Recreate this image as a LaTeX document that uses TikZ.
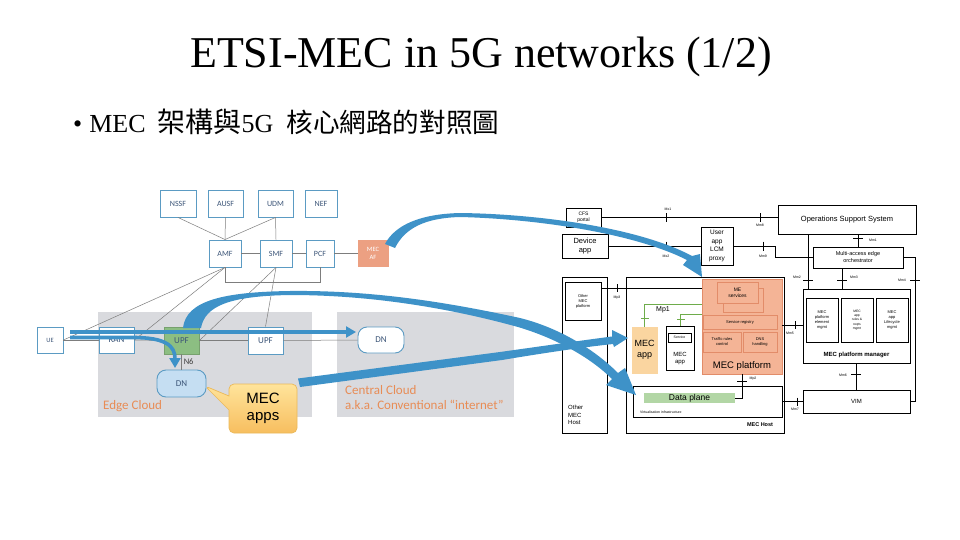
\documentclass[tikz,border=0pt]{standalone}
\usepackage{fontspec}
\setmainfont{Liberation Serif}
\newfontfamily\cjk{Noto Sans CJK TC}
\newfontfamily\arialf{Liberation Sans}
\newfontfamily\calib{Carlito}
\usetikzlibrary{arrows.meta,shapes.callouts,calc}
\newcommand{\fsz}[2]{\fontsize{#1}{#2}\selectfont}
\definecolor{lbord}{RGB}{91,155,195}
\definecolor{ltxt}{RGB}{60,85,120}
\definecolor{lline}{RGB}{125,125,125}
\definecolor{cloud}{RGB}{217,218,222}
\definecolor{upfg}{RGB}{140,190,130}
\definecolor{mecaf}{RGB}{236,160,130}
\definecolor{dnfill}{RGB}{197,222,242}
\definecolor{bblue}{RGB}{62,146,200}
\definecolor{orng}{RGB}{232,140,85}
\definecolor{calltop}{RGB}{255,228,155}
\definecolor{callbot}{RGB}{247,190,95}
\definecolor{callbd}{RGB}{235,185,90}
\definecolor{salm}{RGB}{244,180,150}
\definecolor{salmbd}{RGB}{226,140,105}
\definecolor{appy}{RGB}{250,213,160}
\definecolor{dpg}{RGB}{178,214,165}
\definecolor{greenl}{RGB}{110,172,75}
\tikzset{
  lb/.style={draw=lbord, line width=0.9pt, fill=white, inner sep=0pt, align=center, font=\calib\fsz{8}{9}, text=ltxt},
  ln/.style={draw=lline, line width=0.5pt},
  rb/.style={draw=black, line width=0.7pt, fill=white, inner sep=0pt, align=center, font=\arialf\fsz{5}{6}},
  sb/.style={draw=salmbd, line width=0.6pt, fill=salm, inner sep=0pt, align=center, font=\arialf\fsz{4}{5}},
  rl/.style={draw=black, line width=0.6pt},
  gl/.style={draw=greenl, line width=0.8pt},
  tk/.style={font=\arialf\fsz{3.5}{4}, inner sep=0.5pt},
  barrow/.style={draw=bblue, line width=3.6pt, -{Triangle[length=10pt,width=11pt]}},
}
\begin{document}
\begin{tikzpicture}[x=1pt,y=-1pt]
\useasboundingbox (0,0) rectangle (960,540);
\fill[white] (0,0) rectangle (960,540);
% titles
\node[anchor=base, inner sep=0] (title) at (481,68) {\fsz{44}{48}ETSI-MEC in 5G networks (1/2)};
\node[anchor=base west, inner sep=0] (bullet) at (73,133) {\fsz{26}{30}•\hspace{7pt}MEC\hspace{12pt}{\cjk\fsz{28}{30}架構與}5G\hspace{13pt}{\cjk\fsz{26.6}{30}核心網路的對照圖}};

% ---------------- left diagram ----------------
\fill[cloud] (98,312) rectangle (312,417);
\fill[cloud] (337,312) rectangle (514,417);

\node[lb, minimum width=36pt, minimum height=27pt] (nssf) at (178,203.5) {NSSF};
\node[lb, minimum width=35pt, minimum height=27pt] (ausf) at (225.5,203.5) {AUSF};
\node[lb, minimum width=35pt, minimum height=27pt] (udm) at (275.5,203.5) {UDM};
\node[lb, minimum width=32pt, minimum height=27pt] (nef) at (321,203.5) {NEF};
\node[lb, minimum width=32pt, minimum height=27pt] (amf) at (225,253.5) {AMF};
\node[lb, minimum width=32pt, minimum height=27pt] (smf) at (276,253.5) {SMF};
\node[lb, minimum width=28pt, minimum height=27pt] (pcf) at (320,253.5) {PCF};
\node[lb, draw=mecaf, fill=mecaf, text=white, font=\calib\fsz{6.5}{8}, minimum width=30pt, minimum height=26pt] (mecaf) at (373,253.5) {MEC\\AF};
\node[lb, font=\calib\fsz{6.5}{8}, minimum width=26pt, minimum height=26pt] (ue) at (50,340) {UE};
\node[lb, font=\calib\fsz{9}{10}, minimum width=35pt, minimum height=26pt] (ran) at (116.5,340) {RAN};
\node[lb, draw=upfg!85!black, fill=upfg, font=\calib\fsz{9}{10}, minimum width=35pt, minimum height=27pt] (upfa) at (181.5,340.5) {UPF};
\node[lb, font=\calib\fsz{9}{10}, minimum width=35pt, minimum height=27pt] (upfb) at (265.5,340.5) {UPF};
\node[lb, rounded corners=9pt, font=\calib\fsz{9}{10}, minimum width=46pt, minimum height=26pt] (dnc) at (381,340) {DN};
\node[lb, rounded corners=9pt, fill=dnfill, font=\calib\fsz{9}{10}, minimum width=49pt, minimum height=27pt] (dne) at (181.5,383.5) {DN};

\draw[ln] (nssf.south) -- (amf.north);
\draw[ln] (ausf.south) -- (amf.north);
\draw[ln] (udm.south) -- (amf.north);
\draw[ln] (udm.south) -- (smf.north);
\draw[ln] (amf.east) -- (smf.west);
\draw[ln] (smf.east) -- (pcf.west);
\draw[ln] (pcf.east) -- (mecaf.west);
\draw[ln] (amf.south) -- ++(0,15) -| (pcf.south);
\draw[ln] (amf.south) -- (ue.east);
\draw[ln] (amf.south) -- (ran.east);
\draw[ln] (smf.south) -- (upfa.east);
\draw[ln] (smf.south) -- (upfb.north);
\draw[ln] (ue.east) -- (ran.west);
\draw[ln] (ran.east) -- (upfa.west);
\draw[ln] (upfa.east) -- (upfb.west);
\draw[ln] (upfb.east) -- (dnc.west);
\draw[ln] (upfa.south) -- (dne.north) node[midway, right, font=\calib\fsz{8.5}{9}, text=black!75, inner sep=2pt] {N6};

\node[anchor=west, inner sep=0, font=\calib\fsz{13}{15}, text=orng] (edgelbl) at (103,406) {Edge Cloud};
\node[anchor=west, inner sep=0, font=\calib\fsz{13}{15}, text=orng, align=left] (centlbl) at (345,398) {Central Cloud\\a.k.a. Conventional “internet”};

\node[rectangle callout, rounded corners=5pt, callout absolute pointer={(205,386)}, callout pointer width=14pt,
      draw=callbd, line width=0.7pt, top color=calltop, bottom color=callbot, minimum width=68pt, minimum height=49pt,
      inner sep=0pt, align=center, font=\arialf\fsz{15}{17.5}] (mecapps) at (263,408.5) {MEC\\apps};

% blue arrows (left)
\coordinate (a1s) at (70,332);
\coordinate (a1e) at (356,332);
\coordinate (a2s) at (70,337.5);
\coordinate (a2e) at (175,368);
\draw[barrow] (a1s) -- (a1e);
\draw[barrow] (a2s) -- (133,337.5) .. controls (166,337.5) and (175,346) .. (a2e);

% ---------------- right diagram ----------------
\node[rb, minimum width=158pt, minimum height=156pt] (host) at (705,355) {};
\node[rb, minimum width=45pt, minimum height=156pt] (ohost) at (584.5,355) {};
\node[anchor=west, inner sep=0, align=left, font=\arialf\fsz{6}{7.5}] (ohostlbl) at (568,415) {Other\\MEC\\Host};
\node[rb, line width=1pt, font=\arialf\fsz{4}{5}, minimum width=36pt, minimum height=38pt] (omp) at (583,301) {Other\\MEC\\platform};
\node[rb, font=\arialf\fsz{5}{6}, minimum width=35pt, minimum height=19pt] (cfs) at (583.5,217.5) {CFS\\portal};
\node[rb, font=\arialf\fsz{7.5}{8.5}, minimum width=46pt, minimum height=24pt] (dev) at (585,246) {Device\\app};
\node[rb, font=\arialf\fsz{6.5}{8.5}, minimum width=32pt, minimum height=38pt] (lcm) at (717,246) {User\\app\\LCM\\proxy};
\node[rb, line width=0.9pt, font=\arialf\fsz{7.5}{9}, minimum width=138pt, minimum height=29pt] (oss) at (847,219.5) {Operations Support System};
\node[rb, line width=0.9pt, font=\arialf\fsz{5.5}{7}, minimum width=90pt, minimum height=21pt] (orch) at (858,257.5) {Multi-access edge\\orchestrator};
\node[rb, line width=0.9pt, minimum width=107pt, minimum height=74pt] (pm) at (856.5,326) {};
\node[inner sep=0, font=\arialf\bfseries\fsz{6}{7}] (pmlbl) at (856.5,355) {MEC platform manager};
\node[rb, line width=1pt, font=\arialf\fsz{4}{5}, minimum width=32pt, minimum height=44pt] (pme) at (822,320) {MEC\\platform\\element\\mgmt};
\node[rb, line width=1pt, font=\arialf\fsz{3.3}{4.3}, minimum width=32pt, minimum height=44pt] (pmr) at (857,320) {MEC\\app\\rules \&\\reqts\\mgmt};
\node[rb, line width=1pt, font=\arialf\fsz{4}{5}, minimum width=32pt, minimum height=44pt] (pml) at (892,320) {MEC\\app\\Lifecycle\\mgmt};
\node[rb, line width=0.9pt, font=\arialf\fsz{6}{7}, minimum width=107pt, minimum height=23pt] (vim) at (856.5,401.5) {VIM};

\node[inner sep=0, font=\arialf\bfseries\fsz{5.5}{6}] (hostlbl) at (760,425) {MEC Host};
\node[rb, minimum width=149pt, minimum height=31pt] (virt) at (707.5,401.5) {};
\node[anchor=west, inner sep=0, font=\arialf\fsz{3.5}{4}] (virtlbl) at (640,412) {Virtualisation infrastructure};
\node[draw=none, fill=dpg, inner sep=0, minimum width=91pt, minimum height=10pt, font=\arialf\fsz{8.5}{9}] (dp) at (689.5,398) {Data plane};

\node[sb, minimum width=80pt, minimum height=95pt] (mecp) at (742,326.5) {};
\node[inner sep=0, font=\arialf\fsz{9.5}{10}] (mecplbl) at (742,366) {MEC platform};
\node[sb, minimum width=40pt, minimum height=24pt] (mesb) at (743,300) {};
\node[sb, font=\arialf\fsz{5}{6}, minimum width=41pt, minimum height=21pt] (mes) at (737.5,292.5) {ME\\services};
\node[sb, minimum width=74pt, minimum height=14pt] (sreg) at (740,322) {Service registry};
\node[sb, minimum width=38pt, minimum height=20pt] (trc) at (722,342) {Traffic rules\\control};
\node[sb, minimum width=34pt, minimum height=20pt] (dns) at (760,342) {DNS\\handling};

\node[draw=appy, fill=appy, inner sep=0, align=center, minimum width=25pt, minimum height=46pt, font=\arialf\fsz{9}{10.5}] (appy) at (644.5,350) {MEC\\app};
\node[rb, line width=1pt, minimum width=28pt, minimum height=44pt] (appw) at (680,348) {};
\node[inner sep=0, align=center, font=\arialf\fsz{6}{7}] (appwlbl) at (680,359) {MEC\\app};
\node[rb, line width=0.9pt, font=\arialf\fsz{3.5}{4}, minimum width=23pt, minimum height=9pt] (svc) at (679.5,337.5) {Service};
\node[inner sep=0, font=\arialf\fsz{7}{8}] (mp1lbl) at (663,310) {Mp1};

% right connectors
\coordinate (mp1a) at (702,304);
\coordinate (mp1b) at (702,314);
\draw[gl] (appy.north) |- (mp1a);
\draw[gl] (appw.north) |- (mp1b);
\draw[gl] (641,318) -- (649,318);
\draw[gl] (677,319) -- (685,319);

\draw[rl] (omp.east |- 0,288) -- (mecp.west |- 0,288);
\draw[rl] (617,284) -- (617,292);
\node[tk] at (617,298) {Mp3};

\draw[rl] (cfs.east) -- (oss.west |- cfs.east);
\draw[rl] (666,213) -- (666,222);
\node[tk] at (668,209) {Mx1};
\draw[rl] (760,213) -- (760,222);
\node[tk] at (760,225) {Mm8};

\draw[rl] (dev.east) -- (lcm.west);
\draw[rl] (666,241.5) -- (666,250.5);
\node[tk] at (666,256) {Mx2};

\draw[rl] (lcm.east) -- ++(42,0) |- (orch.west);
\draw[rl] (763,241.5) -- (763,250.5);
\node[tk] at (763,256) {Mm9};

\draw[rl] (orch.north |- oss.south) -- (orch.north);
\draw[rl] (853,238.5) -- (863,238.5);
\node[tk] at (873,240) {Mm1};

\draw[rl] (oss.south -| 808,0) -- (pm.north -| 808,0);
\draw[rl] (803,280) -- (813,280);
\node[tk] at (797,277) {Mm2};

\draw[rl] (orch.south -| 842,0) -- (pm.north -| 842,0);
\draw[rl] (837,280) -- (847,280);
\node[tk] at (854,277) {Mm3};

\draw[rl] (orch.east) -- ++(12,0) |- (vim.east);
\draw[rl] (910,280) -- (920,280);
\node[tk] at (902,280) {Mm4};

\draw[rl] (mecp.east |- 0,325) -- (pm.west |- 0,325);
\draw[rl] (795,321) -- (795,329);
\node[tk] at (790,333) {Mm5};

\draw[rl] (pm.south) -- (vim.north);
\draw[rl] (851,374) -- (861,374);
\node[tk] at (843,375) {Mm6};

\draw[rl] (virt.east) -- (vim.west);
\draw[rl] (797,397.5) -- (797,405.5);
\node[tk] at (795,409) {Mm7};

\draw[rl] (dp.east) -| (mecp.south);
\draw[rl] (737,381) -- (747,381);
\node[tk] at (753,379) {Mp2};

% ---------------- long blue bands ----------------
% from UPF to data plane
\fill[bblue] (183,328) .. controls (186,300) and (225,292) .. (290,291)
  .. controls (380,290) and (460,305) .. (520,318)
  .. controls (560,328) and (595,350) .. (618,373)
  -- (625,368) -- (636,395) -- (606,385) -- (612,379)
  .. controls (590,357) and (555,338) .. (518,327)
  .. controls (460,311) and (380,295) .. (290,295)
  .. controls (232,296) and (205,305) .. (201,328) -- cycle;
% from MEC apps to MEC app
\fill[bblue] (298,378.5) -- (500,352) .. controls (550,345) and (585,340) .. (612,336.5)
  -- (612,330) -- (628,338) -- (614,347) -- (613,344)
  .. controls (585,347) and (550,352) .. (502,360) -- (300,387) -- cycle;
% from MEC AF to ME services
\fill[bblue] (385,244) .. controls (395,225) and (420,214) .. (460,213)
  .. controls (540,214) and (640,228) .. (692,256)
  -- (700,254) -- (702,277) -- (683,265) -- (687,260)
  .. controls (636,234) and (540,219) .. (460,217)
  .. controls (425,218) and (405,228) .. (395,248) -- cycle;
\end{tikzpicture}
\end{document}
